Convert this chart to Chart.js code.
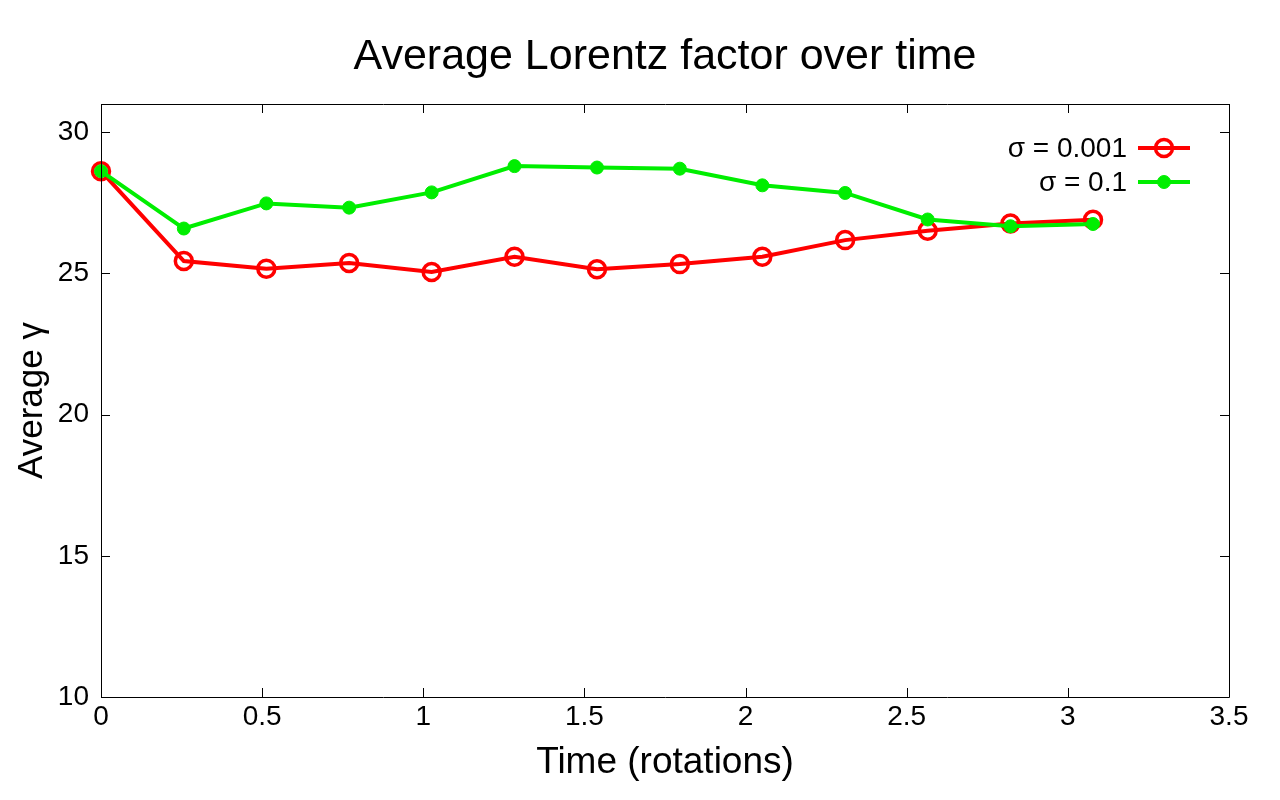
<!DOCTYPE html>
<html>
<head>
<meta charset="utf-8">
<script src="https://cdn.jsdelivr.net/npm/chart.js@4/dist/chart.umd.min.js"></script>
<style>
  html, body { margin: 0; padding: 0; background: #fff; }
  #wrap { width: 1280px; height: 800px; }
</style>
</head>
<body>
<div id="wrap"><canvas id="lorentz"></canvas></div>
<script>
// time in rotations
const timeRot = [0, 0.257, 0.513, 0.770, 1.026, 1.283, 1.539, 1.796, 2.052, 2.309, 2.565, 2.822, 3.078];
// average gamma, sigma = 0.001
const gammaLow = [28.62, 25.44, 25.17, 25.37, 25.05, 25.59, 25.15, 25.33, 25.59, 26.18, 26.51, 26.77, 26.90];
// average gamma, sigma = 0.1
const gammaHigh = [28.62, 26.59, 27.48, 27.33, 27.87, 28.80, 28.75, 28.71, 28.12, 27.85, 26.91, 26.67, 26.75];
const xTicks = [0, 0.5, 1, 1.5, 2, 2.5, 3, 3.5];
const yTicks = [10, 15, 20, 25, 30];
const chartTitle = 'Average Lorentz factor over time';

const FONT = "'Liberation Sans', Arial, sans-serif";

function pts(xs, ys) {
  return xs.map((x, i) => ({ x: x, y: ys[i] }));
}

// gnuplot style frame: box + inward ticks on all four sides, plus the title
const framePlugin = {
  id: 'frame',
  afterDraw(chart) {
    const ctx = chart.ctx;
    const a = chart.chartArea;
    const xs = chart.scales.x, ys = chart.scales.y;
    const len = 9;
    ctx.save();
    ctx.strokeStyle = '#000';
    ctx.lineWidth = 1;
    ctx.beginPath();
    ctx.rect(Math.round(a.left) + 0.5, Math.round(a.top) + 0.5,
             Math.round(a.right - a.left), Math.round(a.bottom - a.top));
    xTicks.forEach(v => {
      const px = Math.round(xs.getPixelForValue(v)) + 0.5;
      ctx.moveTo(px, a.bottom); ctx.lineTo(px, a.bottom - len);
      ctx.moveTo(px, a.top); ctx.lineTo(px, a.top + len);
    });
    yTicks.forEach(v => {
      const py = Math.round(ys.getPixelForValue(v)) + 0.5;
      ctx.moveTo(a.left, py); ctx.lineTo(a.left + len, py);
      ctx.moveTo(a.right, py); ctx.lineTo(a.right - len, py);
    });
    ctx.stroke();

    ctx.font = '43px ' + FONT;
    ctx.fillStyle = '#000';
    ctx.textAlign = 'center';
    ctx.textBaseline = 'middle';
    ctx.fillText(chartTitle, (a.left + a.right) / 2, 57);
    ctx.restore();
  }
};

// legend in the top right corner, text on the left of the sample
const keyPlugin = {
  id: 'key',
  afterDatasetsDraw(chart) {
    const ctx = chart.ctx;
    const a = chart.chartArea;
    const textRight = a.right - 102;
    const lineL = a.right - 91, lineR = a.right - 39;
    ctx.save();
    chart.data.datasets.forEach((ds, i) => {
      const y = a.top + 44 + i * 34;
      ctx.font = '28px ' + FONT;
      ctx.fillStyle = '#000';
      ctx.textAlign = 'right';
      ctx.textBaseline = 'middle';
      ctx.fillText(ds.label, textRight, y + 1);
      ctx.strokeStyle = ds.borderColor;
      ctx.lineWidth = ds.borderWidth;
      ctx.beginPath();
      ctx.moveTo(lineL, y); ctx.lineTo(lineR, y);
      ctx.stroke();
      const cx = (lineL + lineR) / 2;
      ctx.beginPath();
      ctx.arc(cx, y, ds.pointRadius, 0, Math.PI * 2);
      ctx.fillStyle = ds.pointBackgroundColor;
      ctx.fill();
      ctx.lineWidth = ds.pointBorderWidth;
      ctx.strokeStyle = ds.pointBorderColor;
      ctx.stroke();
    });
    ctx.restore();
  }
};

new Chart(document.getElementById('lorentz'), {
  type: 'scatter',
  data: {
    datasets: [
      {
        label: 'σ = 0.001',
        data: pts(timeRot, gammaLow),
        showLine: true,
        clip: false,
        borderColor: '#ff0000',
        borderWidth: 4,
        pointRadius: 8.5,
        pointBorderWidth: 3.5,
        pointBorderColor: '#ff0000',
        pointBackgroundColor: 'rgba(255,255,255,0)',
        order: 2
      },
      {
        label: 'σ = 0.1',
        data: pts(timeRot, gammaHigh),
        showLine: true,
        clip: false,
        borderColor: '#00ee00',
        borderWidth: 4,
        pointRadius: 6.5,
        pointBorderWidth: 1,
        pointBorderColor: '#00ee00',
        pointBackgroundColor: '#00ee00',
        order: 1
      }
    ]
  },
  options: {
    responsive: true,
    maintainAspectRatio: false,
    animation: false,
    layout: { padding: { left: 0, right: 51, top: 104, bottom: 0 } },
    plugins: {
      legend: { display: false },
      tooltip: { enabled: false },
      title: { display: false }
    },
    scales: {
      x: {
        type: 'linear',
        min: 0,
        max: 3.5,
        afterBuildTicks(s) { s.ticks = xTicks.map(v => ({ value: v })); },
        afterFit(s) { s.height = 103; },
        grid: { display: false, drawTicks: false },
        border: { display: false },
        ticks: {
          color: '#000',
          padding: 3,
          font: { family: FONT, size: 28 },
          maxRotation: 0,
          callback: v => String(v)
        },
        title: {
          display: true,
          text: 'Time (rotations)',
          color: '#000',
          font: { family: FONT, size: 37 },
          padding: { top: 0, bottom: 15 }
        }
      },
      y: {
        type: 'linear',
        min: 10,
        max: 31,
        afterBuildTicks(s) { s.ticks = yTicks.map(v => ({ value: v })); },
        afterFit(s) { s.width = 101; },
        grid: { display: false, drawTicks: false },
        border: { display: false },
        ticks: {
          color: '#000',
          padding: 12,
          font: { family: FONT, size: 28 },
          callback: v => String(v)
        },
        title: {
          display: true,
          text: 'Average γ',
          color: '#000',
          font: { family: FONT, size: 35 },
          padding: { top: 11, bottom: 0 }
        }
      }
    }
  },
  plugins: [framePlugin, keyPlugin]
});
</script>
</body>
</html>
